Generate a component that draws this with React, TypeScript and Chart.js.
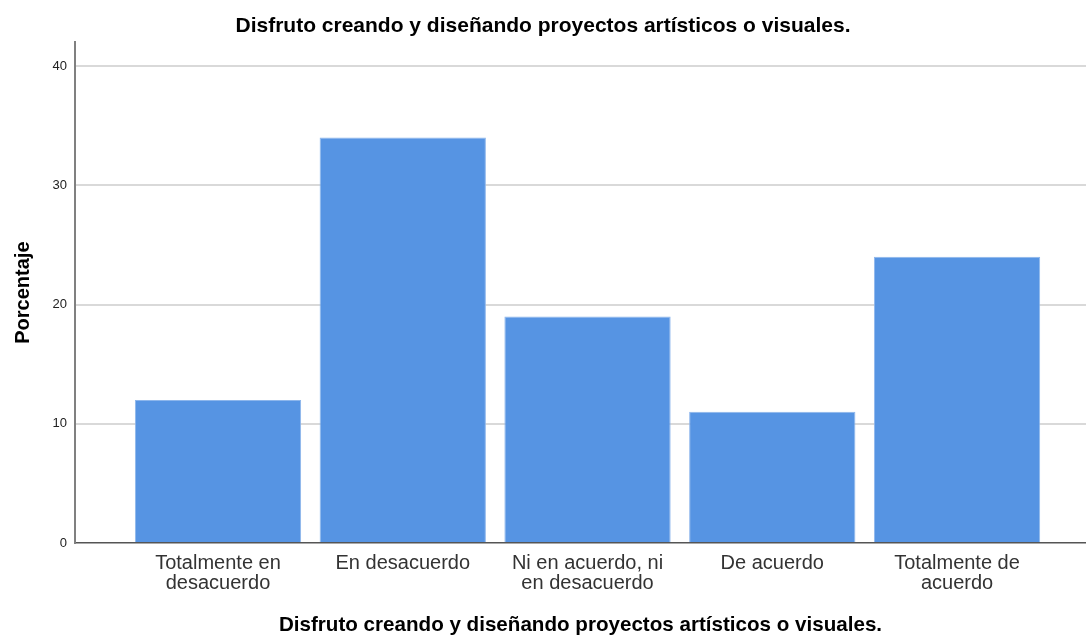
import React, { useEffect, useRef } from "react";
import { Chart, registerables } from "chart.js";

Chart.register(...registerables);

const chartTitle = "Disfruto creando y diseñando proyectos artísticos o visuales.";
const xAxisTitle = "Disfruto creando y diseñando proyectos artísticos o visuales.";
const yAxisTitle = "Porcentaje";
const categories: string[][] = [
  ["Totalmente en", "desacuerdo"],
  ["En desacuerdo"],
  ["Ni en acuerdo, ni", "en desacuerdo"],
  ["De acuerdo"],
  ["Totalmente de", "acuerdo"],
];
const percentages = [12, 34, 19, 11, 24];
const yTicks = [0, 10, 20, 30, 40];

const FONT = "'Liberation Sans', Arial, sans-serif";

export default function App() {
  const ref = useRef<HTMLCanvasElement | null>(null);

  useEffect(() => {
    if (!ref.current) return;
    const chart = new Chart(ref.current, {
      type: "bar",
      data: {
        datasets: [
          {
            label: yAxisTitle,
            data: percentages.map((v, i) => ({ x: i + 1, y: v })),
            backgroundColor: "#5694E3",
            borderColor: "#8DB6EC",
            borderWidth: 1,
            categoryPercentage: 1,
            barPercentage: 0.9,
          },
        ],
      },
      options: {
        responsive: false,
        animation: false,
        devicePixelRatio: 1,
        layout: { padding: 0 },
        plugins: {
          legend: { display: false },
          tooltip: { enabled: false },
          title: {
            display: true,
            text: chartTitle,
            color: "#000",
            font: { family: FONT, size: 21, weight: "bold" },
            padding: { top: 14, bottom: 3 },
          },
        },
        scales: {
          x: {
            type: "linear",
            offset: false,
            min: 0.226,
            max: 5.698,
            afterBuildTicks: (scale: any) => {
              scale.ticks = categories.map((_, i) => ({ value: i + 1 }));
            },
            afterFit: (scale: any) => {
              scale.height = 95;
            },
            grid: { display: false, drawTicks: false, offset: false },
            border: { display: true, color: "#555", width: 1.5 },
            ticks: {
              autoSkip: false,
              maxRotation: 0,
              padding: 11,
              color: "#333",
              font: { family: FONT, size: 20, lineHeight: 0.98 },
              callback: (value: any) => categories[Math.round(value) - 1] ?? "",
            },
            title: {
              display: true,
              text: xAxisTitle,
              color: "#000",
              font: { family: FONT, size: 20.6, weight: "bold" },
              padding: { top: 0, bottom: 0 },
            },
          },
          y: {
            min: 0,
            max: 42,
            afterBuildTicks: (scale: any) => {
              scale.ticks = yTicks.map((v) => ({ value: v }));
            },
            afterFit: (scale: any) => {
              scale.width = 75;
            },
            grid: {
              drawTicks: false,
              lineWidth: 2,
              color: (ctx: any) => (ctx.tick && ctx.tick.value === 0 ? "rgba(0,0,0,0)" : "#D9D9D9"),
            },
            border: { display: true, color: "#808080", width: 2 },
            ticks: {
              padding: 8,
              color: "#222",
              font: { family: FONT, size: 13 },
            },
            title: {
              display: true,
              text: yAxisTitle,
              color: "#000",
              font: { family: FONT, size: 20, weight: "bold" },
              padding: { top: 11, bottom: 0 },
            },
          },
        },
      },
    });
    return () => chart.destroy();
  }, []);

  return (
    <div style={{ position: "fixed", left: 0, top: 0, width: 1086, height: 638, background: "#fff" }}>
      <canvas ref={ref} width={1086} height={638} />
    </div>
  );
}
